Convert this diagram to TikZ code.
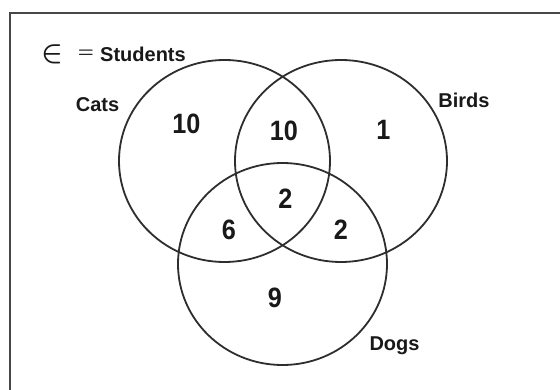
\documentclass[tikz,border=0pt]{standalone}
\usepackage{fontspec}
\setmainfont{Liberation Sans}
\newfontfamily\numfont[FakeStretch=0.9]{Liberation Sans}
\begin{document}
\begin{tikzpicture}[x=1pt,y=-1pt,
  lab/.style={font=\fontsize{20}{20}\selectfont\bfseries, inner sep=0pt, text=black!90},
  num/.style={font=\fontsize{28}{28}\selectfont\numfont\bfseries, inner sep=0pt, text=black!90},
  ring/.style={draw=black!82, line width=1.8pt},
  frame/.style={draw=black!72, line width=2.8pt}]
\useasboundingbox (0,0) rectangle (560,390);
\fill[white] (0,0) rectangle (560,390);
% frame (right and bottom sides are cut off)
\draw[frame] (10,400) -- (10,13) -- (570,13);
% sets
\draw[ring] (224.5,161) ellipse [x radius=105.5pt, y radius=101pt];
\draw[ring] (341,161) ellipse [x radius=106pt, y radius=101pt];
\draw[ring] (282.5,264) ellipse [x radius=104.5pt, y radius=101pt];
% universal set label
\node[inner sep=0pt, text=black!90] (elem) at (52.5,54.5) {\scalebox{2.85}{\boldmath$\in$}};
\node[inner sep=0pt, text=black!90] (eq) at (86,53.5) {\scalebox{1.8}[1.9]{\boldmath$=$}};
\node[lab, anchor=base west] (students) at (100,62) {Students};
% set labels
\node[lab, anchor=base] (cats) at (97.5,112) {Cats};
\node[lab, anchor=base] (birds) at (464,108) {Birds};
\node[lab, anchor=base] (dogs) at (394.5,350) {Dogs};
% region counts
\node[num] (c) at (186.5,124) {10};
\node[num] (cb) at (284,131) {10};
\node[num] (b) at (383.5,130) {1};
\node[num] (cbd) at (285.5,199) {2};
\node[num] (cd) at (229,230) {6};
\node[num] (bd) at (341,229.5) {2};
\node[num] (d) at (275,298) {9};
\end{tikzpicture}
\end{document}
